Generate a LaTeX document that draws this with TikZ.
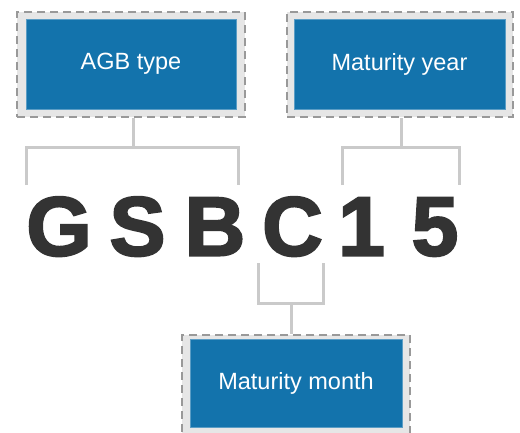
\documentclass[tikz,border=0pt]{standalone}
\usepackage{fontspec}
\setmainfont{Liberation Sans}
\newfontfamily\heavyfont[FakeBold=2.5]{Liberation Sans Bold}
\definecolor{boxblue}{HTML}{1373AC}
\definecolor{framegrey}{HTML}{E6E6E6}
\definecolor{dashgrey}{HTML}{999999}
\definecolor{linegrey}{HTML}{CACACA}
\definecolor{lettergrey}{HTML}{333333}
\begin{document}
\begin{tikzpicture}[x=1pt,y=-1pt,
  bluebox/.style={fill=boxblue, draw=boxblue!70!white, line width=0.8pt, text=white,
    minimum width=210pt, minimum height=90pt, inner sep=0pt, font=\fontsize{23.5}{26}\selectfont},
  frame/.style={fill=framegrey, draw=dashgrey, dash pattern=on 8pt off 5pt, line width=2pt,
    inner sep=0pt},
  bigletter/.style={text=lettergrey, font=\fontsize{84}{90}\heavyfont, inner sep=0pt, anchor=base},
  conn/.style={draw=linegrey, line width=3pt, line join=miter}]
\useasboundingbox (0,0) rectangle (520,432);
\clip (0,0) rectangle (520,432);
\fill[white] (0,0) rectangle (520,432);

% top-left box
\node[frame, minimum width=228pt, minimum height=105pt] (f1) at (131,64.5) {};
\node[bluebox] (agb) at (131,64) {AGB type};
% top-right box
\node[frame, minimum width=226pt, minimum height=105pt] (f2) at (400,64.5) {};
\node[bluebox, minimum width=211pt] (year) at (399.5,64) {Maturity year};
% bottom box
\node[frame, minimum width=228pt, minimum height=105pt] (f3) at (296,387.5) {};
\node[bluebox, minimum width=212pt, minimum height=88pt] (month) at (296,383) {Maturity month};

% letters
\node[bigletter] (lG) at (59,255.5) {G};
\node[bigletter] (lS) at (137.5,255.5) {S};
\node[bigletter] (lB) at (215,255.5) {B};
\node[bigletter] (lC) at (292.5,255.5) {C};
\node[bigletter] (l1) at (361.5,255.5) {1};
\node[bigletter] (l5) at (435,255.5) {5};

% connectors
\coordinate (j1) at (133,147);
\coordinate (b1l) at (26,185);
\coordinate (b1r) at (238,185);
\draw[conn] (j1 |- f1.south) -- (j1);
\draw[conn] (b1l) -- (b1l |- j1) -- (b1r |- j1) -- (b1r);

\coordinate (j2) at (401,147);
\coordinate (b2l) at (342,185);
\coordinate (b2r) at (459,185);
\draw[conn] (j2 |- f2.south) -- (j2);
\draw[conn] (b2l) -- (b2l |- j2) -- (b2r |- j2) -- (b2r);

\coordinate (j3) at (291,303);
\coordinate (b3l) at (258,263);
\coordinate (b3r) at (323,263);
\draw[conn] (j3) -- (j3 |- f3.north);
\draw[conn] (b3l) -- (b3l |- j3) -- (b3r |- j3) -- (b3r);
\end{tikzpicture}
\end{document}
